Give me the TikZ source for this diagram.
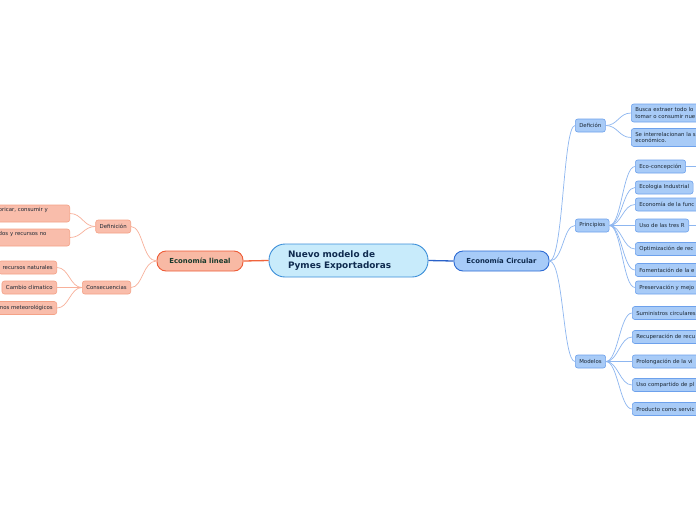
\documentclass[tikz,border=0pt]{standalone}
\usepackage{fontspec}
\setmainfont{DejaVu Sans}
\usetikzlibrary{positioning}

\definecolor{rootfill}{HTML}{C8EBFB}
\definecolor{rootdraw}{HTML}{3C8FD9}
\definecolor{roottext}{HTML}{0F2B4F}
\definecolor{circfill}{HTML}{A7CBF8}
\definecolor{circdraw}{HTML}{2D6BD4}
\definecolor{circline}{HTML}{2A62C9}
\definecolor{linfill}{HTML}{F8B9A4}
\definecolor{lindraw}{HTML}{EE5B36}
\definecolor{linline}{HTML}{F0643C}
\definecolor{lintext}{HTML}{173A2C}
\definecolor{bfill}{HTML}{A8CBF7}
\definecolor{bdraw}{HTML}{6DA1EC}
\definecolor{bline}{HTML}{8DB6F0}
\definecolor{ofill}{HTML}{F9BDAB}
\definecolor{odraw}{HTML}{F4A287}
\definecolor{oline}{HTML}{F8B09A}
\definecolor{ink}{HTML}{1B2733}

\begin{document}
\begin{tikzpicture}[
    x=1pt,y=-1pt,
    root/.style={draw=rootdraw,fill=rootfill,line width=0.9pt,rounded corners=16pt,
        text=roottext,font=\fontsize{8.9}{10.8}\selectfont\bfseries,align=left,
        text width=121pt,inner xsep=19pt,minimum height=33pt},
    main/.style={draw=#1draw,fill=#1fill,line width=0.9pt,rounded corners=9pt,
        font=\fontsize{6.9}{8}\selectfont\bfseries,minimum height=20pt,inner sep=0pt},
    leaf/.style={draw=#1draw,fill=#1fill,line width=0.6pt,rounded corners=2.5pt,
        text=ink,font=\fontsize{5.4}{6.2}\selectfont,minimum height=13pt,
        inner xsep=4pt,inner ysep=2pt},
    blink/.style={draw=bline,line width=0.7pt},
    olink/.style={draw=oline,line width=0.7pt},
]
\useasboundingbox (0,0) rectangle (696,520);
\fill[white] (0,0) rectangle (696,520);
\clip (0,0) rectangle (696,520);

% === centre ===
\node[root] (root) at (348.5,260.5) {Nuevo modelo de\\Pymes Exportadoras};
\node[main=lin,text=lintext,minimum width=86pt] (lin) at (200,261) {Economía lineal};
\node[main=circ,text=roottext,minimum width=95pt] (circ) at (501.5,261) {Economía Circular};
\draw[linline,line width=1.3pt] (root.west) -- (lin.east);
\draw[circline,line width=1.3pt] (root.east) -- (circ.west);

% === left: economia lineal ===
\node[leaf=o,anchor=east] (ldef) at (131,226.5) {Definición};
\node[leaf=o,anchor=east] (lcons) at (131,287.5) {Consecuencias};
\node[leaf=o,anchor=east,align=left,text width=67pt,minimum height=17pt] (ldefa) at (70,213.5) {bricar, consumir y\\\strut};
\node[leaf=o,anchor=east,align=left,text width=67pt,minimum height=17pt] (ldefb) at (70,237.5) {dos y recursos no\\\strut};
\node[leaf=o,anchor=east] (lconsa) at (57,267.5) {recursos naturales};
\node[leaf=o,anchor=east] (lconsb) at (57,287.5) {Cambio climatico};
\node[leaf=o,anchor=east] (lconsc) at (57,308) {nos meteorológicos};

\foreach \n in {ldef,lcons}
    \draw[olink] (lin.west) .. controls +(-14,0) and +(12,0) .. (\n.east);
\foreach \n in {ldefa,ldefb}
    \draw[olink] (ldef.west) .. controls +(-12,0) and +(12,0) .. (\n.east);
\foreach \n in {lconsa,lconsb,lconsc}
    \draw[olink] (lcons.west) .. controls +(-12,0) and +(12,0) .. (\n.east);

% === right: economia circular ===
\node[leaf=b,anchor=west] (cdef) at (575,125.5) {Defición};
\node[leaf=b,anchor=west] (cprin) at (575,225.5) {Principios};
\node[leaf=b,anchor=west] (cmod) at (575,361.5) {Modelos};

\node[leaf=b,anchor=west,align=left,text width=90pt,minimum height=18pt] (defa) at (631,113) {Busca extraer todo lo\\tomar o consumir nue};
\node[leaf=b,anchor=west,align=left,text width=90pt,minimum height=18pt] (defb) at (631,137.5) {Se interrelacionan la s\\económico.};

\node[leaf=b,anchor=west] (eco) at (635,166.5) {Eco-concepción};
\node[leaf=b,anchor=west] (ecol) at (635,187.5) {Ecologia Industrial};
\node[leaf=b,anchor=west,text width=90pt] (econ) at (635,204.5) {Economía de la func};
\node[leaf=b,anchor=west] (uso) at (635,225.5) {Uso de las tres R};
\node[leaf=b,anchor=west,text width=90pt] (opt) at (635,249) {Optimización de rec};
\node[leaf=b,anchor=west,text width=90pt] (fom) at (635,270) {Fomentación de la e};
\node[leaf=b,anchor=west,text width=90pt] (pres) at (635,287.5) {Preservación y mejo};
\coordinate (ecoout) at (700,166.5);
\coordinate (usoout) at (700,225.5);

\node[leaf=b,anchor=west,text width=90pt] (suma) at (632,313) {Suministros circulares};
\node[leaf=b,anchor=west,text width=90pt] (recu) at (632,337) {Recuperación de recu};
\node[leaf=b,anchor=west,text width=90pt] (prol) at (632,361.5) {Prolongación de la vi};
\node[leaf=b,anchor=west,text width=90pt] (ucom) at (632,385) {Uso compartido de pl};
\node[leaf=b,anchor=west,text width=90pt] (prod) at (632,409) {Producto como servic};

\foreach \n in {cdef,cprin,cmod}
    \draw[blink] (circ.east) .. controls +(14,0) and +(-12,0) .. (\n.west);
\foreach \n in {defa,defb}
    \draw[blink] (cdef.east) .. controls +(12,0) and +(-12,0) .. (\n.west);
\foreach \n in {eco,ecol,econ,uso,opt,fom,pres}
    \draw[blink] (cprin.east) .. controls +(12,0) and +(-12,0) .. (\n.west);
\foreach \n in {suma,recu,prol,ucom,prod}
    \draw[blink] (cmod.east) .. controls +(12,0) and +(-12,0) .. (\n.west);
\draw[blink] (eco.east) -- (ecoout);
\draw[blink] (uso.east) -- (usoout);
\end{tikzpicture}
\end{document}
